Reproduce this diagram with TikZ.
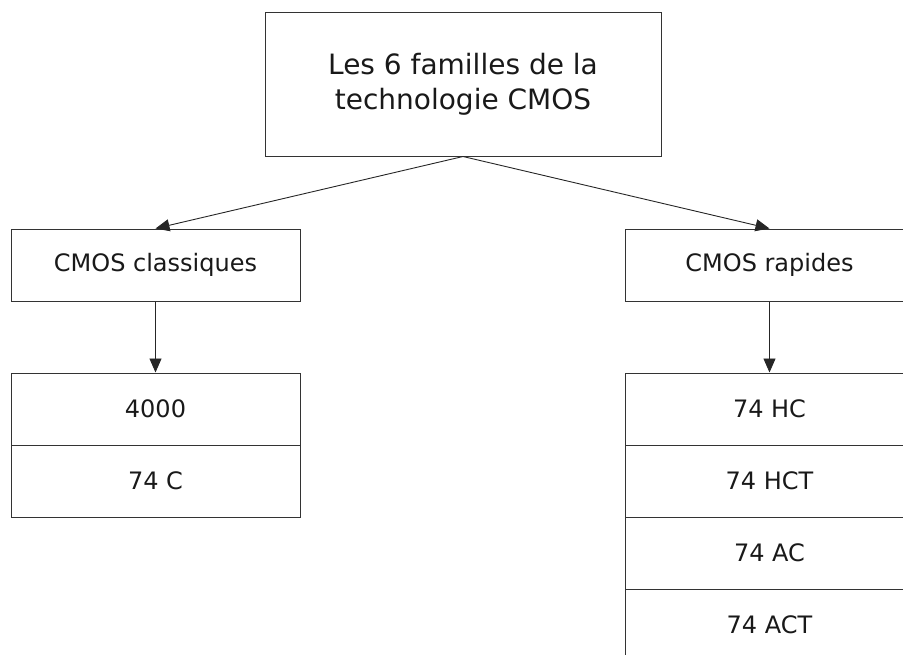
\documentclass[tikz,border=0pt]{standalone}
\usepackage{fontspec}
\setmainfont{DejaVu Sans}
\usetikzlibrary{arrows.meta}
\begin{document}
\begin{tikzpicture}[x=1pt,y=-1pt,
  box/.style={draw=black!80, line width=1pt, minimum width=289pt, minimum height=72pt,
    inner sep=0pt, font=\fontsize{24}{29}\selectfont, text=black!90},
  link/.style={draw=black!85, line width=0.9pt, -{Triangle[length=14pt,width=12pt]}}]
\useasboundingbox (0,0) rectangle (903,654);
\clip (0,0) rectangle (903,654);

% root
\node[box, minimum width=396pt, minimum height=144pt, align=center,
  font=\fontsize{28}{35}\selectfont] (top) at (463,84)
  {Les 6 familles de la\\technologie CMOS};

% left branch
\node[box] (cls) at (155.5,265) {CMOS classiques};
\node[box] (c4000) at (155.5,409) {4000};
\node[box] (c74c) at (155.5,481) {74 C};

% right branch
\node[box] (rap) at (769.5,265) {CMOS rapides};
\node[box] (hc) at (769.5,409) {74 HC};
\node[box] (hct) at (769.5,481) {74 HCT};
\node[box] (ac) at (769.5,553) {74 AC};
\node[box] (act) at (769.5,625) {74 ACT};

% connectors
\draw[link] (top.south) -- (cls.north);
\draw[link] (top.south) -- (rap.north);
\draw[link] (cls.south) -- (c4000.north);
\draw[link] (rap.south) -- (hc.north);
\end{tikzpicture}
\end{document}
